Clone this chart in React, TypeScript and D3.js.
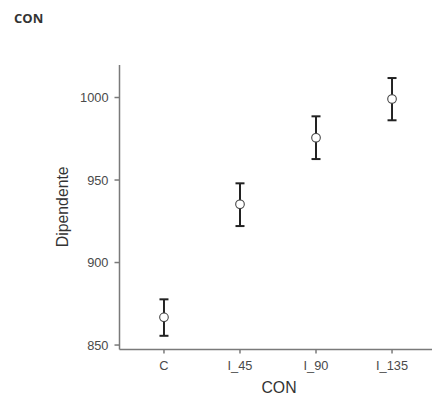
import React from "react";
import * as d3 from "d3";

const categories = ["C", "I_45", "I_90", "I_135"];
const means = [866.8, 935.3, 975.6, 999.1];
const upper = [877.7, 948.0, 988.6, 1011.8];
const lower = [855.6, 922.1, 962.7, 986.2];
const yTicks = [850, 900, 950, 1000];

const W = 432;
const H = 396;
const left = 119.5;
const right = 436.5;
const top = 65;
const bottom = 349.5;

export default function App() {
  const x = d3.scalePoint<string>().domain(categories).range([left, right]).padding(0.585);
  const y = d3.scaleLinear().domain([847.3, 1019.7]).range([bottom, top]);
  const font = "Liberation Sans, Arial, sans-serif";
  const axisColor = "#7a7a7a";
  return (
    <svg width={W} height={H} style={{ position: "absolute", left: 0, top: 0 }}>
      <rect width={W} height={H} fill="#fff" />
      <text x={14} y={23} fontFamily="'Open Sans', sans-serif" fontWeight="bold" fontSize={13} fill="#333">
        CON
      </text>
      {/* y axis */}
      <line x1={left} x2={left} y1={top} y2={bottom} stroke={axisColor} strokeWidth={1.5} />
      {yTicks.map((t) => (
        <g key={t}>
          <line x1={left - 5} x2={left} y1={y(t)} y2={y(t)} stroke={axisColor} strokeWidth={1.5} />
          <text x={left - 11} y={y(t)} dy="0.36em" textAnchor="end" fontFamily={font} fontSize={12.8} fill="#4a4a4a">
            {t}
          </text>
        </g>
      ))}
      {/* x axis */}
      <line x1={left} x2={W} y1={bottom} y2={bottom} stroke={axisColor} strokeWidth={1.5} />
      {categories.map((c) => (
        <g key={c}>
          <line x1={x(c)} x2={x(c)} y1={bottom} y2={bottom + 4} stroke={axisColor} strokeWidth={1.5} />
          <text x={x(c)} y={369.8} textAnchor="middle" fontFamily={font} fontSize={12.8} fill="#4a4a4a">
            {c}
          </text>
        </g>
      ))}
      <text x={(left + right) / 2 + 1} y={392.5} textAnchor="middle" fontFamily={font} fontSize={15.8} fill="#333">
        CON
      </text>
      <text
        transform={`translate(67.5, ${(top + bottom) / 2 - 0.5}) rotate(-90)`}
        textAnchor="middle"
        fontFamily={font}
        fontSize={15.8}
        fill="#333"
      >
        Dipendente
      </text>
      {/* error bars */}
      {categories.map((c, i) => {
        const cx = x(c) as number;
        return (
          <g key={c}>
            <line x1={cx} x2={cx} y1={y(upper[i])} y2={y(lower[i])} stroke="#222" strokeWidth={2} />
            <line x1={cx - 4.5} x2={cx + 4.5} y1={y(upper[i])} y2={y(upper[i])} stroke="#222" strokeWidth={2} />
            <line x1={cx - 4.5} x2={cx + 4.5} y1={y(lower[i])} y2={y(lower[i])} stroke="#222" strokeWidth={2} />
            <circle cx={cx} cy={y(means[i])} r={4.3} fill="#fff" stroke="#444" strokeWidth={1.1} />
          </g>
        );
      })}
    </svg>
  );
}
